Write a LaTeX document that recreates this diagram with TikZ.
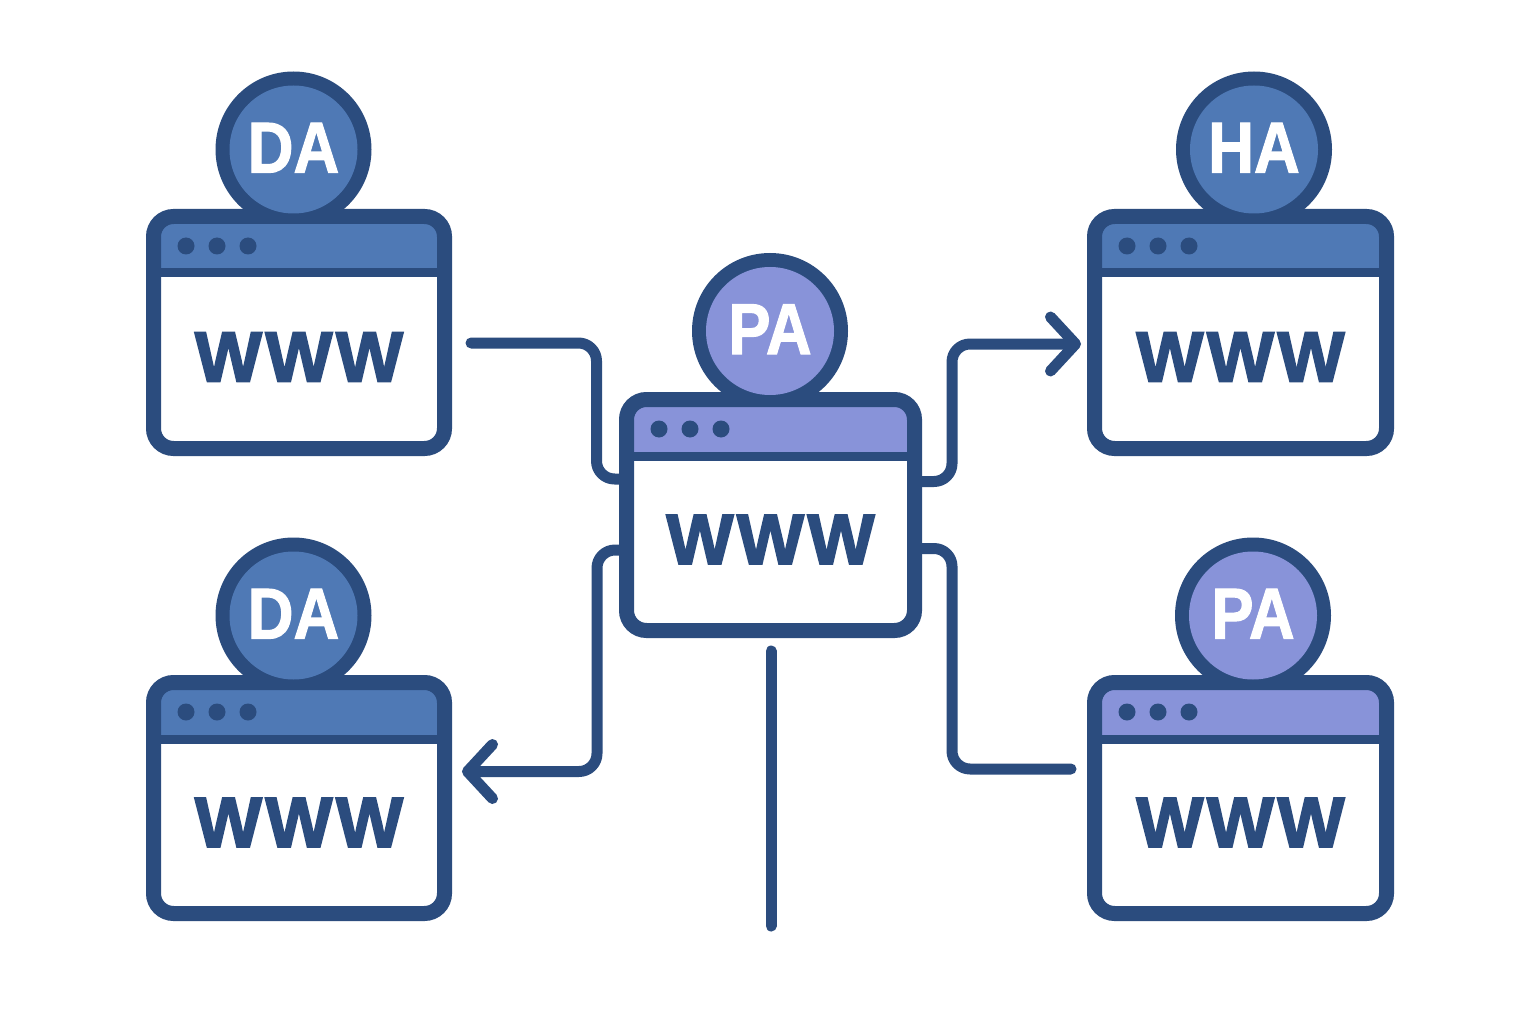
\documentclass[tikz,border=0pt]{standalone}
\usepackage{fontspec}
\setmainfont{Liberation Sans}[BoldFeatures={FakeBold=1.6}]
\newfontfamily\wwwfont{Liberation Sans}[LetterSpace=5,BoldFeatures={FakeBold=2.6}]
\usetikzlibrary{arrows.meta}
\definecolor{ink}{HTML}{2B4C7E}
\definecolor{bluefill}{HTML}{4F79B5}
\definecolor{purplefill}{HTML}{8893D9}
\tikzset{
  x=1pt,y=-1pt,
  winbox/.style={draw=ink,fill=white,line width=15pt,rounded corners=20pt,outer sep=0pt,inner sep=0pt},
  ring/.style={circle,fill=ink,minimum size=156pt,inner sep=0pt,outer sep=0pt},
  face/.style={circle,minimum size=128pt,inner sep=0pt,outer sep=0pt},
  badge/.style={font=\fontsize{72pt}{72pt}\bfseries\selectfont,text=white,anchor=base,inner sep=0pt,xscale=.88},
  wtext/.style={font=\fontsize{71pt}{71pt}\wwwfont\bfseries,text=ink,anchor=base,inner sep=0pt},
  conn/.style={draw=ink,line width=11pt,line cap=round,line join=round,rounded corners=18pt},
  tip/.style={-{Straight Barb[length=25pt,width=54pt,line width=11pt,round]}},
}
% name, cx, cy, w, h, colour, label, circle cx, circle cy
\newcommand\webwin[9]{%
  \node[ring] (#1-ring) at (#8,#9) {};
  \node[winbox,minimum width=#4pt,minimum height=#5pt,path picture={
     \fill[#6,sharp corners] (path picture bounding box.north west) rectangle ([yshift=-52.5pt]path picture bounding box.north east);
     \fill[ink,sharp corners] ([yshift=-52pt]path picture bounding box.north west) rectangle ([yshift=-61pt]path picture bounding box.north east);
  }] (#1) at (#2,#3) {};
  \foreach \dx in {32.5,63.5,94.5}{\fill[ink] ([xshift=\dx pt,yshift=-29.5pt]#1.north west) circle (8.5pt);}
  \node[face,fill=#6] (#1-face) at (#8,#9) {};
  \node[badge] (#1-label) at ([yshift=-23pt]#8,#9) {#7};
  \node[wtext] (#1-www) at ([yshift=-49pt]#2,#3) {WWW};
}
\begin{document}
\begin{tikzpicture}
\useasboundingbox (0,0) rectangle (1536,1024);
\fill[white] (0,0) rectangle (1536,1024);
\webwin{da1}{299}{332.5}{291}{232}{bluefill}{DA}{293.5}{149.5}
\webwin{ha}{1240.5}{332.5}{292}{232}{bluefill}{HA}{1254}{149.5}
\webwin{da2}{299}{798}{291}{231}{bluefill}{DA}{293.5}{615.5}
\webwin{pa2}{1240.5}{798}{292}{231}{purplefill}{PA}{1253}{615.5}
\webwin{pa}{770.5}{515}{288}{231}{purplefill}{PA}{770}{331}
\coordinate (in1) at (471,343);
\coordinate (out1) at (1081,344);
\coordinate (out2) at (462,771.5);
\coordinate (in2) at (1071,769);
\coordinate (stub1) at (771,651);
\coordinate (stub2) at (771,926);
\draw[conn] (in1) -- (596.5,343) -- (596.5,479) -- (pa.west |- 0,479);
\draw[conn,tip] (pa.east |- 0,481.5) -- (952,481.5) -- (952,344) -- (out1);
\draw[conn,tip] (pa.west |- 0,550) -- (597,550) -- (597,771.5) -- (out2);
\draw[conn] (pa.east |- 0,548.5) -- (952,548.5) -- (952,769) -- (in2);
\draw[conn] (stub1) -- (stub2);
\end{tikzpicture}
\end{document}
